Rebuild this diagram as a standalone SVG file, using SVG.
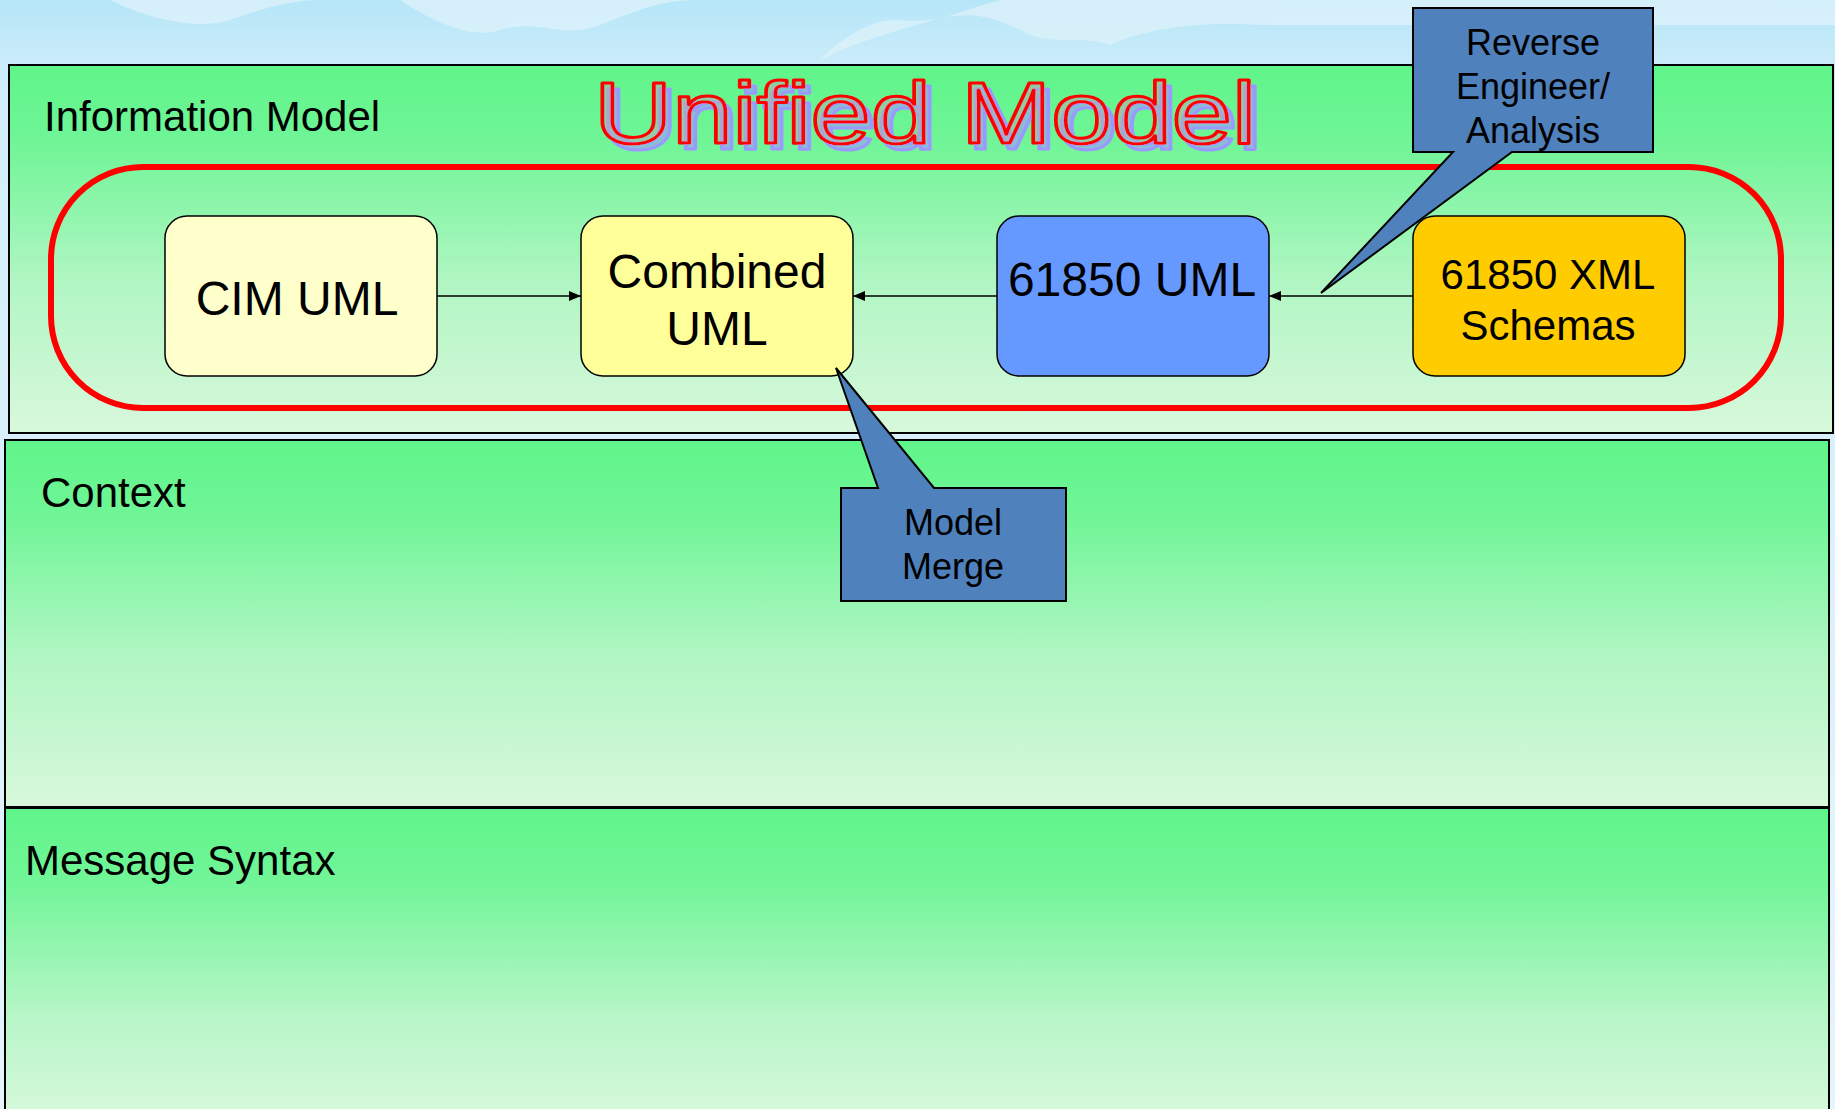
<svg xmlns="http://www.w3.org/2000/svg" width="1835" height="1109" viewBox="0 0 1835 1109">
<defs>
<linearGradient id="sky" x1="0" y1="0" x2="0" y2="1">
<stop offset="0" stop-color="#b6e6f8"/>
<stop offset="0.08" stop-color="#d2eefa"/>
<stop offset="1" stop-color="#e6f4fb"/>
</linearGradient>
<linearGradient id="pan" x1="0" y1="0" x2="0" y2="1">
<stop offset="0" stop-color="#5ff58a"/>
<stop offset="0.2" stop-color="#6ff596"/>
<stop offset="0.6" stop-color="#b2f6c4"/>
<stop offset="1" stop-color="#d8f8dc"/>
</linearGradient>
<linearGradient id="pan2" x1="0" y1="808" x2="0" y2="1109" gradientUnits="userSpaceOnUse">
<stop offset="0" stop-color="#5ff58a"/>
<stop offset="0.25" stop-color="#72f598"/>
<stop offset="0.7" stop-color="#b8f6c8"/>
<stop offset="1" stop-color="#d4f8da"/>
</linearGradient>
<filter id="shadow" x="-5%" y="-20%" width="115%" height="150%">
<feOffset in="SourceAlpha" dx="6" dy="6" result="off"/>
<feFlood flood-color="#9999ff"/>
<feComposite in2="off" operator="in" result="sh"/>
<feMerge><feMergeNode in="sh"/><feMergeNode in="SourceGraphic"/></feMerge>
</filter>
<marker id="ah" viewBox="0 0 12 10" refX="12" refY="5" markerWidth="12" markerHeight="10" markerUnits="userSpaceOnUse" orient="auto">
<path d="M0,0 L12,5 L0,10 Z" fill="#000"/>
</marker>
</defs>
<style>
.panel{stroke:#000;stroke-width:2}
.node{stroke:#000;stroke-width:1.5}
.lbl{font-family:"Liberation Sans",Arial,sans-serif;fill:#000}
.big{font-size:48px;text-anchor:middle}
.call{fill:#4f81bd;stroke:#000;stroke-width:2;stroke-linejoin:miter}
.ct{font-size:36px;text-anchor:middle}
.conn{stroke:#000;stroke-width:1.5;fill:none;marker-end:url(#ah)}
</style>
<rect x="0" y="0" width="1835" height="1109" fill="url(#sky)"/>
<g id="clouds" fill="#dcf2fb" opacity="0.8">
<path d="M110,0 C150,20 200,30 230,20 C270,5 300,0 320,0 Z"/>
<path d="M400,0 C430,20 470,40 500,30 C540,18 560,40 600,25 C640,10 660,0 700,0 Z"/>
<path d="M820,60 C860,40 900,30 940,18 C980,10 1000,20 1030,35 C1060,45 1080,35 1110,45 C1140,30 1200,20 1260,25 L1835,25 L1835,0 L1000,0 C960,10 940,25 900,20 C870,18 840,40 820,60 Z"/>
<path d="M1000,0 C1010,15 1040,25 1070,18 C1100,8 1120,5 1130,0 Z"/>
</g>
<g id="info-model">
<rect class="panel" x="9" y="65" width="1824" height="368" fill="url(#pan)" stroke="#333"/>
<text class="lbl" x="44" y="131" font-size="42">Information Model</text>
</g>
<g id="context">
<rect class="panel" x="5" y="440" width="1824" height="367" fill="url(#pan)"/>
<text class="lbl" x="41" y="507" font-size="42">Context</text>
</g>
<g id="message-syntax">
<rect class="panel" x="5" y="808" width="1824" height="310" fill="url(#pan2)"/>
<text class="lbl" x="25" y="875" font-size="42">Message Syntax</text>
</g>
<g id="title">
<text x="594" y="143" font-family="Liberation Sans,Arial,sans-serif" font-size="87" textLength="662" lengthAdjust="spacingAndGlyphs" fill="#b0b0b0" fill-opacity="0.6" stroke="#ff0000" stroke-width="3" stroke-linejoin="round" filter="url(#shadow)">Unified Model</text>
</g>
<g id="unified-boundary">
<rect x="51" y="167" width="1730" height="241" rx="92" ry="92" fill="none" stroke="#ff0000" stroke-width="6"/>
</g>
<g id="connectors">
<line class="conn" x1="437" y1="296" x2="581" y2="296"/>
<line class="conn" x1="997" y1="296" x2="853" y2="296"/>
<line class="conn" x1="1413" y1="296" x2="1269" y2="296"/>
</g>
<g id="cim-uml">
<rect class="node" x="165" y="216" width="272" height="160" rx="22" fill="#ffffcc"/>
<text class="lbl big" x="297" y="315">CIM UML</text>
</g>
<g id="combined-uml">
<rect class="node" x="581" y="216" width="272" height="160" rx="22" fill="#ffff99"/>
<text class="lbl big" x="717" y="288">Combined</text>
<text class="lbl big" x="717" y="345">UML</text>
</g>
<g id="uml-61850">
<rect class="node" x="997" y="216" width="272" height="160" rx="22" fill="#6699ff"/>
<text class="lbl big" x="1132" y="296">61850 UML</text>
</g>
<g id="xml-61850">
<rect class="node" x="1413" y="216" width="272" height="160" rx="22" fill="#ffcc00"/>
<text class="lbl" x="1548" y="289" font-size="42" text-anchor="middle">61850 XML</text>
<text class="lbl" x="1548" y="340" font-size="42" text-anchor="middle">Schemas</text>
</g>
<g id="callout-reverse">
<path class="call" d="M1413,8 L1653,8 L1653,152 L1512,152 L1321,293 L1453,152 L1413,152 Z"/>
<text class="lbl ct" x="1533" y="55">Reverse</text>
<text class="lbl ct" x="1533" y="99">Engineer/</text>
<text class="lbl ct" x="1533" y="143">Analysis</text>
</g>
<g id="callout-merge">
<path class="call" d="M841,488 L878,488 L836,368 L934,488 L1066,488 L1066,601 L841,601 Z"/>
<text class="lbl ct" x="953" y="535">Model</text>
<text class="lbl ct" x="953" y="579">Merge</text>
</g>
</svg>
